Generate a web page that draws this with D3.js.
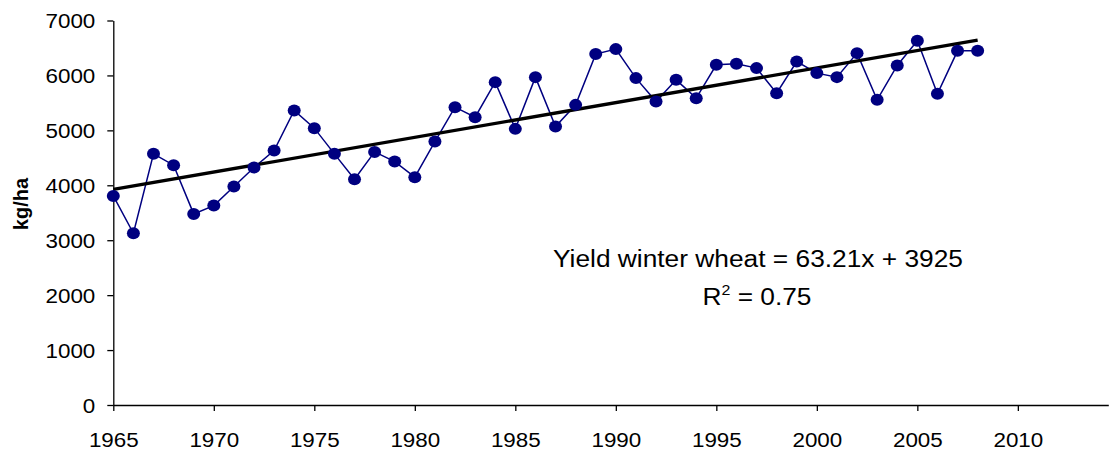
<!DOCTYPE html>
<html><head><meta charset="utf-8">
<script src="https://cdn.jsdelivr.net/npm/d3@7"></script>
<style>body{margin:0;background:#fff;} svg{display:block;} text{font-family:Arial,"Liberation Sans",sans-serif;}</style>
</head><body>
<svg id="c" width="1109" height="451"></svg>
<script>
const years = [1965,1966,1967,1968,1969,1970,1971,1972,1973,1974,1975,1976,1977,1978,1979,1980,1981,1982,1983,1984,1985,1986,1987,1988,1989,1990,1991,1992,1993,1994,1995,1996,1997,1998,1999,2000,2001,2002,2003,2004,2005,2006,2007,2008];
const yields = [3807,3127,4572,4366,3479,3630,3977,4323,4633,5361,5040,4572,4111,4608,4432,4147,4796,5422,5240,5878,5027,5969,5069,5464,6388,6479,5951,5525,5920,5586,6193,6211,6133,5677,6253,6042,5969,6406,5556,6181,6630,5665,6448,6448];
const trendSlope = 63.21, trendIntercept = 3925;
const xTicks = [1965,1970,1975,1980,1985,1990,1995,2000,2005,2010];
const yTicks = [0,1000,2000,3000,4000,5000,6000,7000];
const eqLabel = "Yield winter wheat = 63.21x + 3925";
const yLabel = "kg/ha";

const svg = d3.select("#c");
const x = d3.scaleLinear().domain([1965, 2014.5]).range([113.3, 1108.3]);
const y = d3.scaleLinear().domain([0, 7000]).range([405, 20.5]);

const xAxis = svg.append("g").attr("transform","translate(0,405)")
  .call(d3.axisBottom(x).tickValues(xTicks).tickFormat(d3.format("d")).tickSize(6).tickSizeOuter(0));
const yAxis = svg.append("g").attr("transform","translate(113.3,0)")
  .call(d3.axisLeft(y).tickValues(yTicks).tickSize(6).tickSizeOuter(0).tickFormat(d3.format("d")));
[xAxis,yAxis].forEach(a=>{
  a.attr("font-size",null).attr("font-family",null);
  a.select(".domain").attr("stroke","#000").attr("stroke-width",1.3);
  a.selectAll(".tick line").attr("stroke","#000").attr("stroke-width",1.3);
  a.selectAll(".tick text").attr("fill","#000").style("font-size","20px");
});
xAxis.selectAll(".tick text").attr("dy","0").attr("y",42);
yAxis.selectAll(".tick text").attr("x",-18).attr("dy","0.35em");
// slight horizontal stretch like the original rendering
svg.selectAll(".tick text").each(function(){
  const L = this.getComputedTextLength();
  d3.select(this).attr("textLength", L*1.12).attr("lengthAdjust","spacingAndGlyphs");
});

const line = d3.line().x((d,i)=>x(years[i])).y(d=>y(d));
svg.append("path").datum(yields).attr("d",line).attr("fill","none").attr("stroke","#000080").attr("stroke-width",1.5);

// trend line
const t0 = years[0], t1 = years[years.length-1];
svg.append("line")
  .attr("x1",x(t0)).attr("y1",y(trendIntercept))
  .attr("x2",x(t1)).attr("y2",y(trendIntercept + trendSlope*(t1-t0)))
  .attr("stroke","#000").attr("stroke-width",3.4);

svg.append("g").selectAll("ellipse").data(yields).join("ellipse")
  .attr("cx",(d,i)=>x(years[i])).attr("cy",d=>y(d)).attr("rx",6.5).attr("ry",6)
  .attr("fill","#000080");

svg.append("text").attr("x",758).attr("y",267).attr("text-anchor","middle").style("font-size","23px")
  .attr("textLength",410).attr("lengthAdjust","spacingAndGlyphs").text(eqLabel);
const r2 = svg.append("text").attr("x",757).attr("y",305).attr("text-anchor","middle").style("font-size","23px");
r2.append("tspan").text("R");
r2.append("tspan").attr("dy",-10).style("font-size","14px").text("2");
r2.append("tspan").attr("dy",10).text(" = 0.75");
{
  const L = r2.node().getComputedTextLength();
  r2.attr("transform",`translate(757,305) scale(${109/L},1) translate(-757,-305)`);
}

svg.append("text").attr("transform","translate(28,204) rotate(-90)").attr("text-anchor","middle")
  .style("font-size","20px").style("font-weight","bold").text(yLabel);
</script>
</body></html>
